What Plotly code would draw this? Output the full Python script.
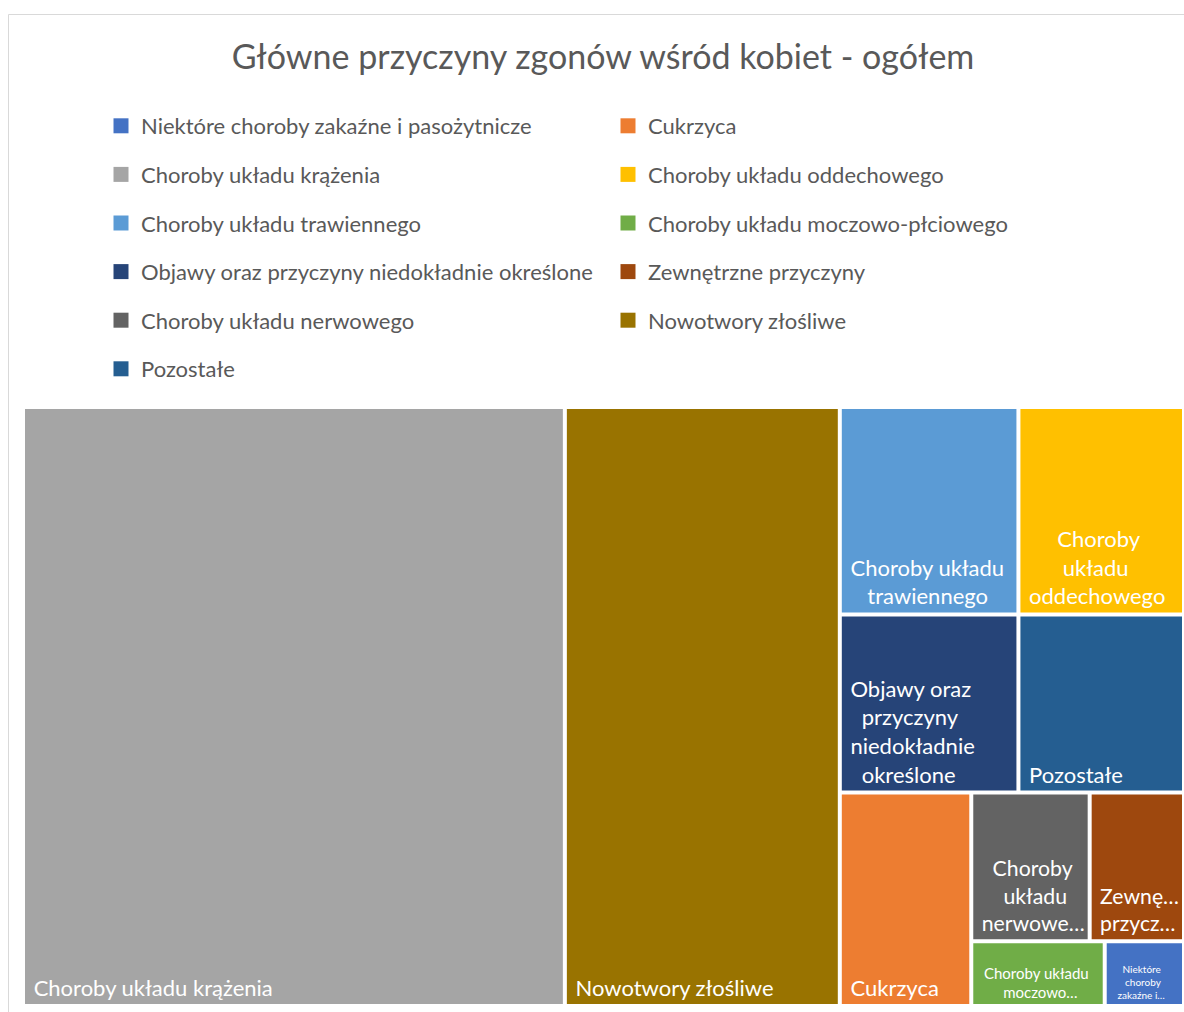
import plotly.graph_objects as go

W, H = 1184, 1012


def fx(px):
    return px / W


def fy(py):
    return 1 - py / H


# causes of death (Excel series order = legend order)
categories = [
    "Niektóre choroby zakaźne i pasożytnicze",
    "Cukrzyca",
    "Choroby układu krążenia",
    "Choroby układu oddechowego",
    "Choroby układu trawiennego",
    "Choroby układu moczowo-płciowego",
    "Objawy oraz przyczyny niedokładnie określone",
    "Zewnętrzne przyczyny",
    "Choroby układu nerwowego",
    "Nowotwory złośliwe",
    "Pozostałe",
]
# estimated from tile areas
deaths = [1476, 8071, 93344, 9877, 10655, 2485, 9148, 4035, 5065, 47364, 8480]

# labels as they appear (wrapped / truncated) inside the tiles
tile_labels = [
    ["Niektóre", "choroby", "zakaźne i…"],
    ["Cukrzyca"],
    ["Choroby układu krążenia"],
    ["Choroby", "układu", "oddechowego"],
    ["Choroby układu", "trawiennego"],
    ["Choroby układu", "moczowo…"],
    ["Objawy oraz", "przyczyny", "niedokładnie", "określone"],
    ["Zewnę…", "przycz…"],
    ["Choroby", "układu", "nerwowe…"],
    ["Nowotwory złośliwe"],
    ["Pozostałe"],
]
# non-breaking spaces in front of each line: inner padding + centring of lines
indent = [
    [5, 6, 3],
    [1],
    [1],
    [6, 7, 1],
    [1, 4],
    [2, 7],
    [1, 3, 1, 3],
    [1, 1],
    [3, 5, 1],
    [1],
    [1],
]
tile_font_size = [10, 22, 22, 22, 22, 15, 22, 22, 22, 22, 22]

NB = "\u00a0"
tile_text = ["<br>".join(NB * n + s for n, s in zip(ind, lines))
             for ind, lines in zip(indent, tile_labels)]

colors = ["#4472C4", "#ED7D31", "#A5A5A5", "#FFC000", "#5B9BD5", "#70AD47",
          "#264478", "#9E480E", "#636363", "#997300", "#255E91"]

FONT = "Lato"
GREY = "#595959"

fig = go.Figure()

fig.add_trace(go.Treemap(
    labels=categories,
    parents=[""] * len(categories),
    values=deaths,
    text=tile_text,
    texttemplate="%{text}",
    textposition="bottom left",
    textfont=dict(family=FONT, size=tile_font_size, color="white"),
    marker=dict(colors=colors, line=dict(width=0),
                pad=dict(t=0, l=0, r=0, b=0)),
    tiling=dict(packing="squarify", pad=4),
    pathbar=dict(visible=False),
    sort=True,
    hoverinfo="label+value",
    domain=dict(x=[fx(25), fx(1182)], y=[fy(1004), fy(409)]),
))

# legend entries (two columns, like the Excel legend)
for i, (cat, col) in enumerate(zip(categories, colors)):
    fig.add_trace(go.Scatter(
        x=[None], y=[None], mode="markers",
        marker=dict(symbol="square", size=15, color=col),
        name=cat, legendgroup=cat,
        legend="legend" if i % 2 == 0 else "legend2",
        hoverinfo="skip",
    ))

legend_style = dict(
    font=dict(family=FONT, size=22, color=GREY),
    bgcolor="rgba(0,0,0,0)",
    traceorder="grouped",
    tracegroupgap=17,
    itemclick=False,
    xanchor="left", yanchor="top",
)

fig.update_layout(
    width=W, height=H,
    margin=dict(l=0, r=0, t=0, b=0),
    paper_bgcolor="white", plot_bgcolor="white",
    title=dict(text="Główne przyczyny zgonów wśród kobiet - ogółem",
               font=dict(family=FONT, size=34, color=GREY),
               x=fx(603), xanchor="center", y=fy(57), yanchor="middle"),
    legend=dict(x=fx(101), y=fy(105), **legend_style),
    legend2=dict(x=fx(608), y=fy(105), **legend_style),
    xaxis=dict(visible=False),
    yaxis=dict(visible=False),
    shapes=[dict(type="rect", xref="paper", yref="paper",
                 x0=fx(8.5), x1=1.05, y0=-0.05, y1=fy(14.5),
                 line=dict(color="#D9D9D9", width=1), fillcolor="rgba(0,0,0,0)")],
)

# drop the default 8px body margin so the figure fills the window
fig.write_html("out.html", config={"displayModeBar": False},
               post_script="document.body.style.margin = '0';")
